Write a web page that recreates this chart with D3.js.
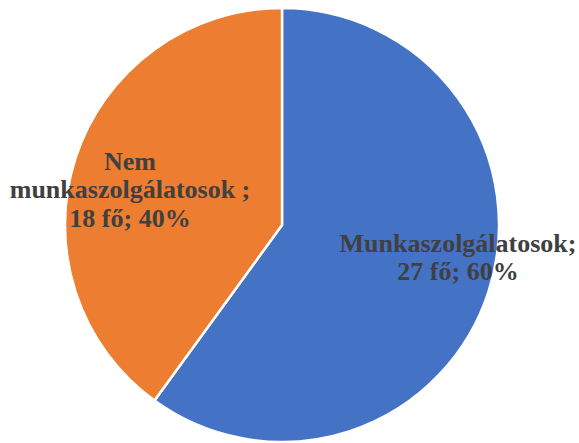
<!DOCTYPE html>
<html>
<head>
<meta charset="utf-8">
<script src="https://cdn.jsdelivr.net/npm/d3@7"></script>
<style>
  body { margin: 0; background: #fff; }
  svg { display: block; }
  .lbl { font-family: "Liberation Serif", "Times New Roman", serif; font-weight: bold; fill: #404040; }
</style>
</head>
<body>
<div class="chart"></div>
<script>
const categories = ["Munkaszolgálatosok", "Nem munkaszolgálatosok"]
const counts = [27, 18]
const percents = ["60%", "40%"]
const colors = ["#4472C4", "#ED7D31"]

const width = 579, height = 443
const cx = 282, cy = 225, radius = 217

// label lines and where each block sits (relative to pie centre)
const labelLines = [
  ["Munkaszolgálatosok;", "27 fő; 60%"],
  ["Nem", "munkaszolgálatosok ;", "18 fő; 40%"]
]
const labelOffsets = [[176, 33], [-152, -35]]

let svg = d3.select(".chart").append("svg")
  .attr("width", width)
  .attr("height", height)

let g = svg.append("g").attr("transform", "translate(" + cx + "," + cy + ")")

let pie = d3.pie().sort(null).value(d => d)
let arc = d3.arc().innerRadius(0).outerRadius(radius)

g.selectAll("path")
  .data(pie(counts))
  .join("path")
  .attr("d", arc)
  .attr("fill", (d, i) => colors[i])
  .attr("stroke", "#fff")
  .attr("stroke-width", 2.5)

let lineH = 28.5
labelLines.forEach((lines, i) => {
  let t = g.append("text")
    .attr("class", "lbl")
    .attr("text-anchor", "middle")
    .attr("font-size", 26)
    .attr("transform", "translate(" + labelOffsets[i][0] + "," + labelOffsets[i][1] + ")")
  lines.forEach((s, j) => {
    t.append("tspan")
      .attr("x", 0)
      .attr("y", (j - (lines.length - 1) / 2) * lineH + 8)
      .text(s)
  })
})
</script>
</body>
</html>
